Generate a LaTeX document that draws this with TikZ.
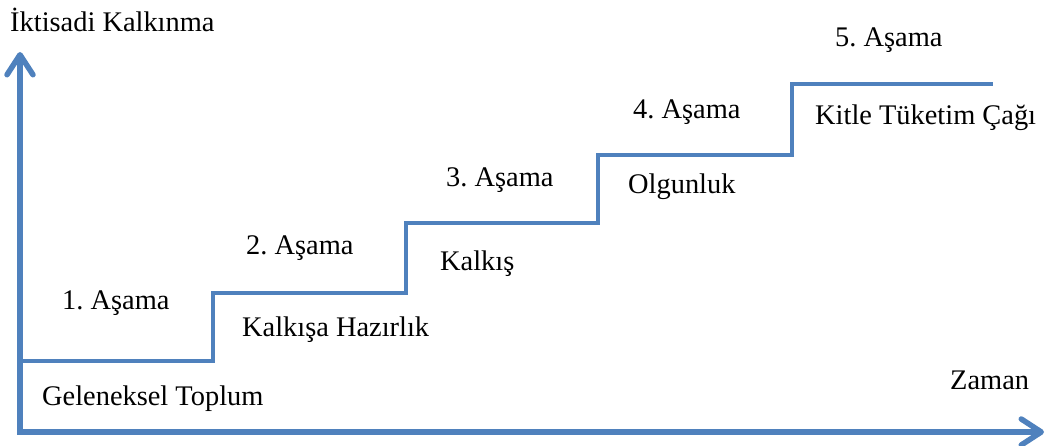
\documentclass[tikz,border=0pt]{standalone}
\usepackage{fontspec}
\setmainfont{Liberation Serif}
\usetikzlibrary{arrows.meta}
\definecolor{stepblue}{HTML}{4F81BD}
\frenchspacing

\begin{document}
\begin{tikzpicture}[x=1pt,y=-1pt,
  axis/.style={draw=stepblue,line width=5.5pt,-{Straight Barb[length=20pt,width=26pt,round]}},
  stair/.style={draw=stepblue,line width=3.5pt,line join=miter},
  lbl/.style={anchor=base west,inner sep=0pt,font=\fontsize{28.4}{34}\selectfont}]
\useasboundingbox (0,0) rectangle (1048,446);
\coordinate (o) at (20,432);
\coordinate (ytip) at (20,52);
\coordinate (xtip) at (1044,432);
\coordinate (s0) at (20,361);
\coordinate (s1) at (213,293);
\coordinate (s2) at (406,223);
\coordinate (s3) at (598,155);
\coordinate (s4) at (792,84);
\coordinate (s5) at (993,84);
\draw[stair] (s0) -| (s1) -| (s2) -| (s3) -| (s4) -- (s5);
\draw[axis] (o) -- (ytip);
\draw[axis] ([xshift=-2.75pt]o) -- (xtip);
\node[lbl] (ylabel) at (10,32) {İktisadi Kalkınma};
\node[lbl] (xlabel) at (950,389) {Zaman};
\node[lbl] (a1) at (62,309) {1. Aşama};
\node[lbl] (b1) at (42,405) {Geleneksel Toplum};
\node[lbl] (a2) at (246,254) {2. Aşama};
\node[lbl] (b2) at (242,336) {Kalkışa Hazırlık};
\node[lbl] (a3) at (446,187) {3. Aşama};
\node[lbl] (b3) at (440,270) {Kalkış};
\node[lbl] (a4) at (633,119) {4. Aşama};
\node[lbl] (b4) at (628,194) {Olgunluk};
\node[lbl] (a5) at (835,47) {5. Aşama};
\node[lbl] (b5) at (815,125) {Kitle Tüketim Çağı};
\end{tikzpicture}
\end{document}
